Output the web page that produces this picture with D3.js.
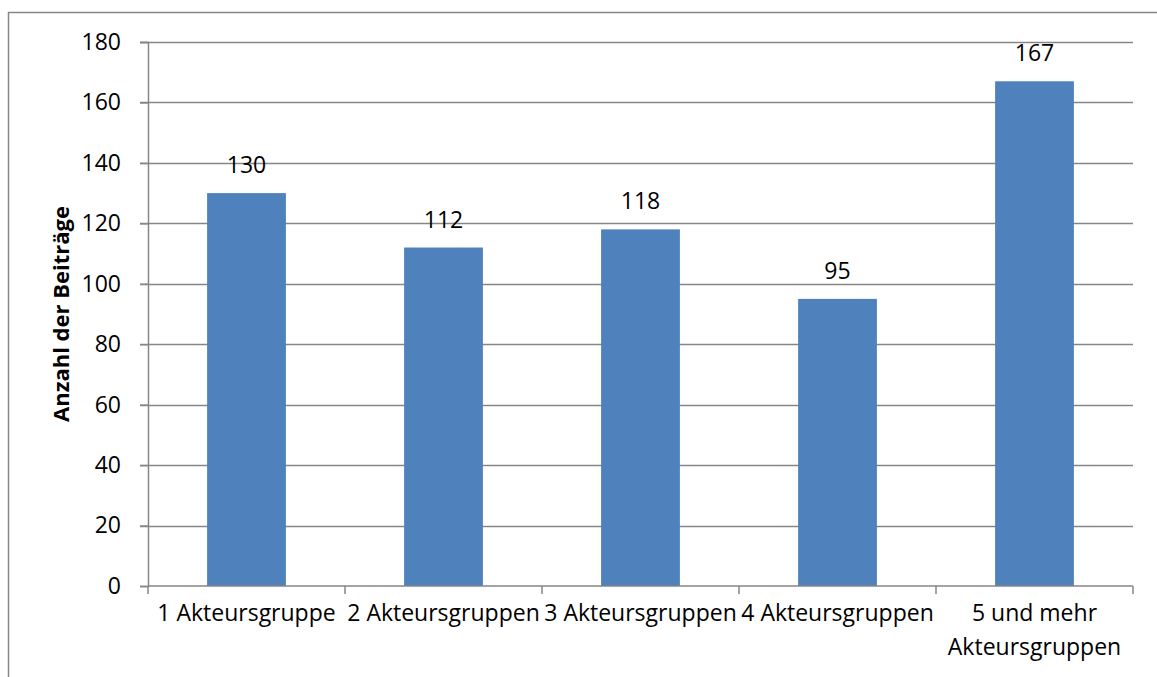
<!DOCTYPE html>
<html>
<head>
<meta charset="utf-8">
<script src="https://cdn.jsdelivr.net/npm/d3@7.9.0/dist/d3.min.js"></script>
<style>
  body { margin: 0; background: #fff; }
  svg text { font-family: "Open Sans", sans-serif; fill: #000; }
</style>
</head>
<body>
<svg id="chart" width="1157" height="677"></svg>
<script>
const categories = ['1 Akteursgruppe', '2 Akteursgruppen', '3 Akteursgruppen', '4 Akteursgruppen', '5 und mehr Akteursgruppen'];
const values = [130, 112, 118, 95, 167];
const yTicks = [0, 20, 40, 60, 80, 100, 120, 140, 160, 180];
const yTitle = 'Anzahl der Beiträge';

const svg = d3.select('#chart');
const margin = { left: 148, right: 24, top: 42, bottom: 91 };
const W = 1157, H = 677;
const grey = '#868686';
const fs = 23;

// outer chart border (runs off the right / bottom edge like the source)
svg.append('rect')
  .attr('x', 8.5).attr('y', 12.5)
  .attr('width', 1160).attr('height', 680)
  .attr('fill', 'none').attr('stroke', grey).attr('stroke-width', 1.5);

const x = d3.scaleBand()
  .domain(categories)
  .range([margin.left, W - margin.right])
  .paddingInner(0.6)
  .paddingOuter(0.3);

const y = d3.scaleLinear()
  .domain([0, 180])
  .range([H - margin.bottom, margin.top]);

// gridlines
svg.append('g')
  .selectAll('line')
  .data(yTicks.filter(d => d > 0))
  .join('line')
  .attr('x1', margin.left - 8).attr('x2', W - margin.right)
  .attr('y1', d => Math.round(y(d)) + 0.5).attr('y2', d => Math.round(y(d)) + 0.5)
  .attr('stroke', grey).attr('stroke-width', 1.5);

// bars
svg.append('g')
  .selectAll('rect')
  .data(values)
  .join('rect')
  .attr('x', (d, i) => x(categories[i]))
  .attr('width', x.bandwidth())
  .attr('y', d => y(d))
  .attr('height', d => y(0) - y(d))
  .attr('fill', '#4F81BD');

// value labels
svg.append('g')
  .selectAll('text')
  .data(values)
  .join('text')
  .attr('x', (d, i) => x(categories[i]) + x.bandwidth() / 2)
  .attr('y', d => y(d) - 20)
  .attr('text-anchor', 'middle')
  .attr('font-size', fs)
  .text(d => d);

// y axis
const yAxis = svg.append('g')
  .attr('transform', `translate(${margin.left},0)`)
  .call(d3.axisLeft(y).tickValues(yTicks).tickSize(8).tickPadding(19));
yAxis.select('.domain').attr('stroke', grey).attr('stroke-width', 1.5);
yAxis.selectAll('.tick line').attr('stroke', grey).attr('stroke-width', 1.5);
yAxis.selectAll('.tick text')
  .attr('font-size', fs)
  .attr('font-family', '"Open Sans", sans-serif')
  .attr('fill', '#000');

// x axis line + tick marks at category boundaries
const step = x.step();
const boundaries = d3.range(categories.length + 1).map(i => margin.left + i * step);
svg.append('line')
  .attr('x1', margin.left).attr('x2', W - margin.right)
  .attr('y1', y(0)).attr('y2', y(0))
  .attr('stroke', grey).attr('stroke-width', 1.5);
svg.append('g')
  .selectAll('line')
  .data(boundaries)
  .join('line')
  .attr('x1', d => d).attr('x2', d => d)
  .attr('y1', y(0)).attr('y2', y(0) + 8)
  .attr('stroke', grey).attr('stroke-width', 1.5);

// category labels (wrap only when clearly wider than a band)
const xLabels = svg.append('g')
  .selectAll('text')
  .data(categories)
  .join('text')
  .attr('x', d => x(d) + x.bandwidth() / 2)
  .attr('y', y(0) + 35)
  .attr('text-anchor', 'middle')
  .attr('font-size', fs)
  .text(d => d);

xLabels.each(function(d) {
  const t = d3.select(this);
  if (this.getComputedTextLength() > step * 1.1) {
    const words = d.split(' ');
    const first = words.slice(0, -1).join(' ');
    const last = words[words.length - 1];
    const cx = t.attr('x');
    t.text(null);
    t.append('tspan').attr('x', cx).text(first);
    t.append('tspan').attr('x', cx).attr('dy', 34).text(last);
  }
});

// y axis title
svg.append('text')
  .attr('transform', `translate(69,${(y(0) + y(180)) / 2}) rotate(-90)`)
  .attr('text-anchor', 'middle')
  .attr('font-size', 22)
  .attr('font-weight', 'bold')
  .text(yTitle);
</script>
</body>
</html>
